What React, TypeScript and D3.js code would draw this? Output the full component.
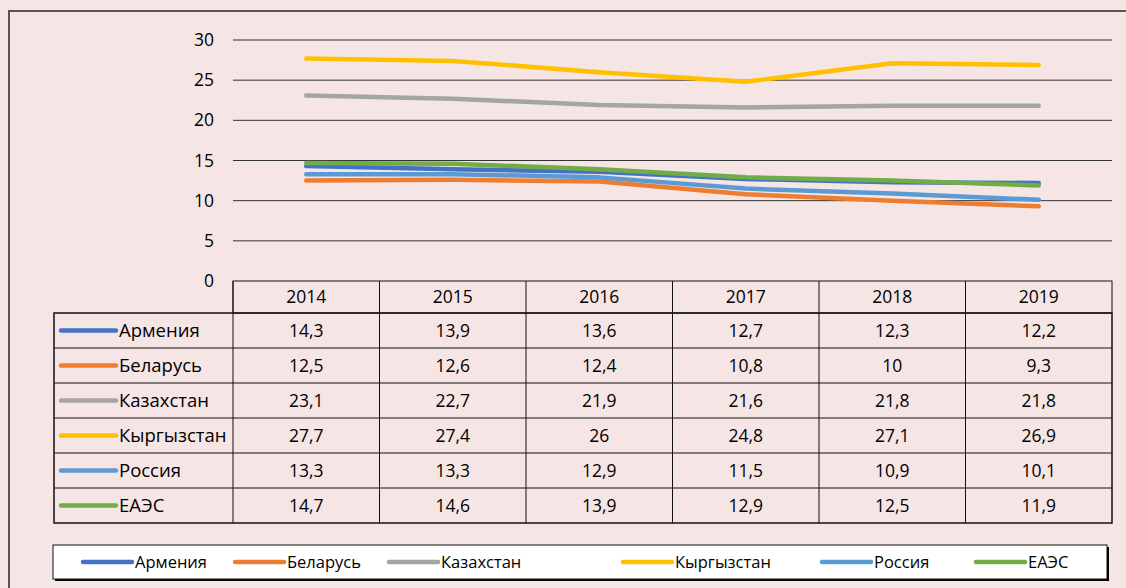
import React from "react";
import * as d3 from "d3";

const years = ["2014", "2015", "2016", "2017", "2018", "2019"];
const seriesNames = ["Армения", "Беларусь", "Казахстан", "Кыргызстан", "Россия", "ЕАЭС"];
const armenia = [14.3, 13.9, 13.6, 12.7, 12.3, 12.2];
const belarus = [12.5, 12.6, 12.4, 10.8, 10, 9.3];
const kazakhstan = [23.1, 22.7, 21.9, 21.6, 21.8, 21.8];
const kyrgyzstan = [27.7, 27.4, 26, 24.8, 27.1, 26.9];
const russia = [13.3, 13.3, 12.9, 11.5, 10.9, 10.1];
const eaeu = [14.7, 14.6, 13.9, 12.9, 12.5, 11.9];
const seriesColors = ["#4472C4", "#ED7D31", "#A5A5A5", "#FFC000", "#5B9BD5", "#70AD47"];
const yTicks = [0, 5, 10, 15, 20, 25, 30];

const W = 1126;
const H = 588;
const FONT = "'Open Sans', 'Noto Sans', sans-serif";

export default function App() {
  const allSeries = [armenia, belarus, kazakhstan, kyrgyzstan, russia, eaeu];
  const plotLeft = 233;
  const plotRight = 1112;
  const x = d3.scaleBand<string>().domain(years).range([plotLeft, plotRight]);
  const y = d3.scaleLinear().domain([0, 30]).range([281, 40]);
  const line = d3
    .line<number>()
    .x((_, i) => (x(years[i]) as number) + x.bandwidth() / 2)
    .y((d) => y(d));

  const headerTop = 281;
  const headerH = 32;
  const rowH = 35;
  const tableLeft = 54;
  const bodyTop = headerTop + headerH;
  const bodyBottom = bodyTop + rowH * seriesNames.length;
  const fmt = (v: number) => String(v).replace(".", ",");

  const legendXs = [83, 235, 389, 623, 822, 976];

  return (
    <svg
      width={W}
      height={H}
      style={{ position: "absolute", left: 0, top: 0, display: "block" }}
      fontFamily={FONT}
    >
      <rect x={0} y={0} width={W} height={H} fill="#F6E5E5" />
      <rect x={9} y={11} width={W + 20} height={H + 20} fill="none" stroke="#555" strokeWidth={2} />

      {/* gridlines and y ticks */}
      {yTicks.map((t) => (
        <g key={t}>
          {t > 0 && (
            <line x1={plotLeft} x2={plotRight} y1={y(t)} y2={y(t)} stroke="#333" strokeWidth={1} />
          )}
          <text x={214} y={y(t)} dy="0.35em" textAnchor="end" fontSize={17.5} fill="#000">
            {t}
          </text>
        </g>
      ))}

      {/* lines */}
      {allSeries.map((s, i) => (
        <path
          key={seriesNames[i]}
          d={line(s) || ""}
          fill="none"
          stroke={seriesColors[i]}
          strokeWidth={4.5}
          strokeLinecap="round"
          strokeLinejoin="round"
        />
      ))}

      {/* header row */}
      <rect x={plotLeft} y={headerTop} width={plotRight - plotLeft} height={headerH} fill="none" stroke="#111" />
      {years.map((yr) => (
        <g key={yr}>
          <line
            x1={x(yr) as number}
            x2={x(yr) as number}
            y1={headerTop}
            y2={bodyBottom}
            stroke="#111"
          />
          <text
            x={(x(yr) as number) + x.bandwidth() / 2}
            y={headerTop + headerH / 2}
            dy="0.35em"
            textAnchor="middle"
            fontSize={17.5}
            fill="#000"
          >
            {yr}
          </text>
        </g>
      ))}

      {/* body */}
      <rect
        x={tableLeft}
        y={bodyTop}
        width={plotRight - tableLeft}
        height={bodyBottom - bodyTop}
        fill="none"
        stroke="#111"
        strokeWidth={1.5}
      />
      {seriesNames.map((name, i) => {
        const top = bodyTop + rowH * i;
        const cy = top + rowH / 2;
        return (
          <g key={name}>
            {i > 0 && <line x1={tableLeft} x2={plotRight} y1={top} y2={top} stroke="#111" />}
            <line x1={61} x2={116} y1={cy} y2={cy} stroke={seriesColors[i]} strokeWidth={4.5} strokeLinecap="round" />
            <text x={119} y={cy} dy="0.35em" fontSize={18.5} fill="#000">
              {name}
            </text>
            {allSeries[i].map((v, j) => (
              <text
                key={j}
                x={(x(years[j]) as number) + x.bandwidth() / 2}
                y={cy}
                dy="0.35em"
                textAnchor="middle"
                fontSize={17.5}
                fill="#000"
              >
                {fmt(v)}
              </text>
            ))}
          </g>
        );
      })}

      {/* legend */}
      <rect x={55} y={547} width={1054} height={34} fill="#000" />
      <rect x={53} y={545} width={1054} height={34} fill="#fff" stroke="#111" strokeWidth={1} />
      {seriesNames.map((name, i) => (
        <g key={name}>
          <line
            x1={legendXs[i]}
            x2={legendXs[i] + 49}
            y1={562}
            y2={562}
            stroke={seriesColors[i]}
            strokeWidth={4.5}
            strokeLinecap="round"
          />
          <text x={legendXs[i] + 52} y={562} dy="0.35em" fontSize={16.5} fill="#000">
            {name}
          </text>
        </g>
      ))}
    </svg>
  );
}
